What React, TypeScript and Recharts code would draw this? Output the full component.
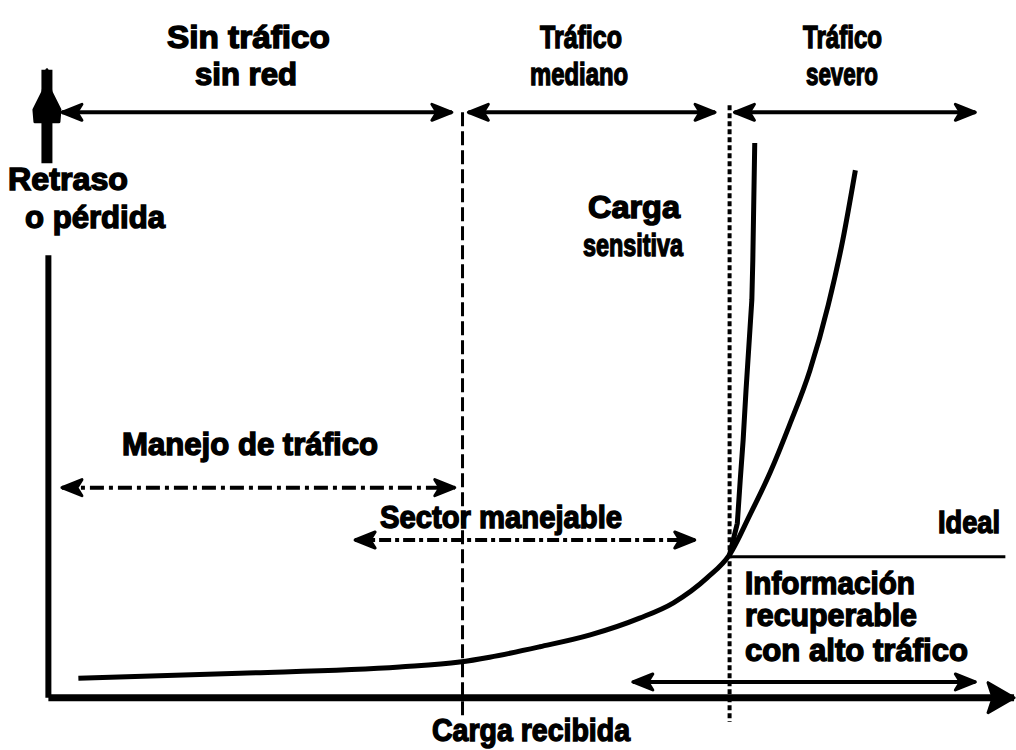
import { LineChart, Line, XAxis, YAxis, Customized } from 'recharts';

// load (x) vs delay/loss (y), both on a 0..100 scale
const loadCurve = [
  { x: 3.1, y: 2.8 },
  { x: 19.8, y: 3.5 },
  { x: 36.3, y: 4.4 },
  { x: 42.5, y: 5.1 },
  { x: 45.6, y: 5.8 },
  { x: 50.8, y: 7.3 },
  { x: 56.0, y: 9.0 },
  { x: 61.1, y: 11.4 },
  { x: 64.6, y: 13.6 },
  { x: 68.1, y: 17.2 },
  { x: 70.4, y: 20.5 },
  { x: 72.5, y: 26.2 },
  { x: 74.6, y: 32.3 },
  { x: 76.6, y: 39.1 },
  { x: 78.7, y: 46.9 },
  { x: 80.6, y: 56.3 },
  { x: 82.1, y: 65.6 },
  { x: 83.4, y: 75.6 },
];

const sensitiveCurve = [
  { x: 70.4, y: 20.5 },
  { x: 71.2, y: 25.0 },
  { x: 71.5, y: 31.2 },
  { x: 71.8, y: 36.9 },
  { x: 72.1, y: 44.1 },
  { x: 72.5, y: 52.7 },
  { x: 72.7, y: 57.0 },
  { x: 72.8, y: 62.7 },
  { x: 73.0, y: 79.5 },
];

const idealLine = [
  { x: 70.4, y: 20.2 },
  { x: 98.9, y: 20.2 },
];

const xAxisLine = [
  { x: 0, y: 0 },
  { x: 99.8, y: 0, head: 'right', big: true },
];
const yAxisLower = [
  { x: 0, y: 63.4 },
  { x: 0, y: 0 },
];
const yAxisUpper = [
  { x: -0.15, y: 76.6 },
  { x: -0.15, y: 90.0, head: 'up' },
];

// zone arrows along the top
const zoneNoTraffic = [
  { x: 1.4, y: 83.9, head: 'left' },
  { x: 41.7, y: 83.9, head: 'right' },
];
const zoneMedium = [
  { x: 43.4, y: 83.9, head: 'left' },
  { x: 68.9, y: 83.9, head: 'right' },
];
const zoneSevere = [
  { x: 70.9, y: 83.9, head: 'left' },
  { x: 95.8, y: 83.9, head: 'right' },
];

const trafficHandling = [
  { x: 1.4, y: 30.1, head: 'left' },
  { x: 42.0, y: 30.1, head: 'right' },
];
const manageableSector = [
  { x: 31.7, y: 22.6, head: 'left' },
  { x: 66.8, y: 22.6, head: 'right' },
];
const recoverable = [
  { x: 60.4, y: 2.25, head: 'left' },
  { x: 95.8, y: 2.25, head: 'right' },
];

const mediumBoundary = [
  { x: 42.8, y: 83.9 },
  { x: 42.8, y: -3.2 },
];
const severeBoundary = [
  { x: 70.4, y: 84.9 },
  { x: 70.4, y: -3.5 },
];

const arrowDot = (props: any) => {
  const { cx, cy, payload, index } = props;
  const key = `d-${index}-${cx}-${cy}`;
  if (!payload || !payload.head) return <g key={key} />;
  const L = payload.big ? 26 : 20;
  const W = payload.big ? 30 : 16;
  let pts = '';
  if (payload.head === 'right') {
    pts = `${cx},${cy} ${cx - L},${cy - W / 2} ${cx - L + 5},${cy} ${cx - L},${cy + W / 2}`;
  } else if (payload.head === 'left') {
    pts = `${cx},${cy} ${cx + L},${cy - W / 2} ${cx + L - 5},${cy} ${cx + L},${cy + W / 2}`;
  } else {
    // teardrop head of the vertical axis
    pts = `${cx},${cy} ${cx - 4},${cy + 22} ${cx - 13},${cy + 40} ${cx - 12},${cy + 52} ${cx + 12},${cy + 52} ${cx + 13},${cy + 40} ${cx + 4},${cy + 22}`;
  }
  return <polygon key={key} points={pts} fill="#000" stroke="#000" strokeWidth={3} strokeLinejoin="round" />;
};

const Labels = () => {
  const font = {
    fontFamily: '"Liberation Sans", Arial, sans-serif',
    fontWeight: 700,
    fontSize: 31,
    fill: '#000',
    stroke: '#000',
    strokeWidth: 1.4,
  };
  const items: [string, number, number, number][] = [
    ['Sin tráfico', 167, 48, 163],
    ['sin red', 195, 85, 102],
    ['Tráfico', 540, 48, 82],
    ['mediano', 530, 85, 98],
    ['Tráfico', 803, 48, 79],
    ['severo', 806, 85, 72],
    ['Retraso', 8, 190, 120],
    ['o pérdida', 25, 228, 140],
    ['Carga', 588, 218, 92],
    ['sensitiva', 583, 256, 100],
    ['Manejo de tráfico', 122, 455, 256],
    ['Sector manejable', 380, 528, 242],
    ['Ideal', 938, 533, 62],
    ['Información', 745, 594, 170],
    ['recuperable', 745, 626, 172],
    ['con alto tráfico', 745, 661, 223],
    ['Carga recibida', 432, 741, 198],
  ];
  return (
    <g>
      {items.map(([t, x, y, w], i) => (
        <text key={i} x={x} y={y} textLength={w} lengthAdjust="spacingAndGlyphs" {...font}>
          {t}
        </text>
      ))}
    </g>
  );
};

export default function App() {
  return (
    <div style={{ position: 'absolute', left: 0, top: 0, background: '#fff' }}>
      <LineChart width={1016} height={750} margin={{ top: 0, right: 0, bottom: 0, left: 0 }}>
        <XAxis type="number" dataKey="x" domain={[-5, 100]} hide />
        <YAxis type="number" dataKey="y" domain={[-7.5, 100]} hide />
        <Line data={mediumBoundary} dataKey="y" stroke="#000" strokeWidth={3} strokeDasharray="14 5" dot={false} activeDot={false} isAnimationActive={false} />
        <Line data={severeBoundary} dataKey="y" stroke="#000" strokeWidth={4} strokeDasharray="5 3" dot={false} activeDot={false} isAnimationActive={false} />
        <Line data={xAxisLine} dataKey="y" stroke="#000" strokeWidth={7} dot={arrowDot} activeDot={false} isAnimationActive={false} />
        <Line data={yAxisLower} dataKey="y" stroke="#000" strokeWidth={6} dot={false} activeDot={false} isAnimationActive={false} />
        <Line data={yAxisUpper} dataKey="y" stroke="#000" strokeWidth={11} dot={arrowDot} activeDot={false} isAnimationActive={false} />
        <Line data={zoneNoTraffic} dataKey="y" stroke="#000" strokeWidth={4} dot={arrowDot} activeDot={false} isAnimationActive={false} />
        <Line data={zoneMedium} dataKey="y" stroke="#000" strokeWidth={4} dot={arrowDot} activeDot={false} isAnimationActive={false} />
        <Line data={zoneSevere} dataKey="y" stroke="#000" strokeWidth={4} dot={arrowDot} activeDot={false} isAnimationActive={false} />
        <Line data={trafficHandling} dataKey="y" stroke="#000" strokeWidth={4} strokeDasharray="14 5 4 5" dot={arrowDot} activeDot={false} isAnimationActive={false} />
        <Line data={manageableSector} dataKey="y" stroke="#000" strokeWidth={4} strokeDasharray="12 4 4 4" dot={arrowDot} activeDot={false} isAnimationActive={false} />
        <Line data={recoverable} dataKey="y" stroke="#000" strokeWidth={4} dot={arrowDot} activeDot={false} isAnimationActive={false} />
        <Line data={idealLine} dataKey="y" stroke="#000" strokeWidth={3} dot={false} activeDot={false} isAnimationActive={false} />
        <Line data={loadCurve} dataKey="y" type="monotone" stroke="#000" strokeWidth={5} dot={false} activeDot={false} isAnimationActive={false} />
        <Line data={sensitiveCurve} dataKey="y" type="linear" stroke="#000" strokeWidth={5} dot={false} activeDot={false} isAnimationActive={false} />
        <Customized component={Labels} />
      </LineChart>
    </div>
  );
}
